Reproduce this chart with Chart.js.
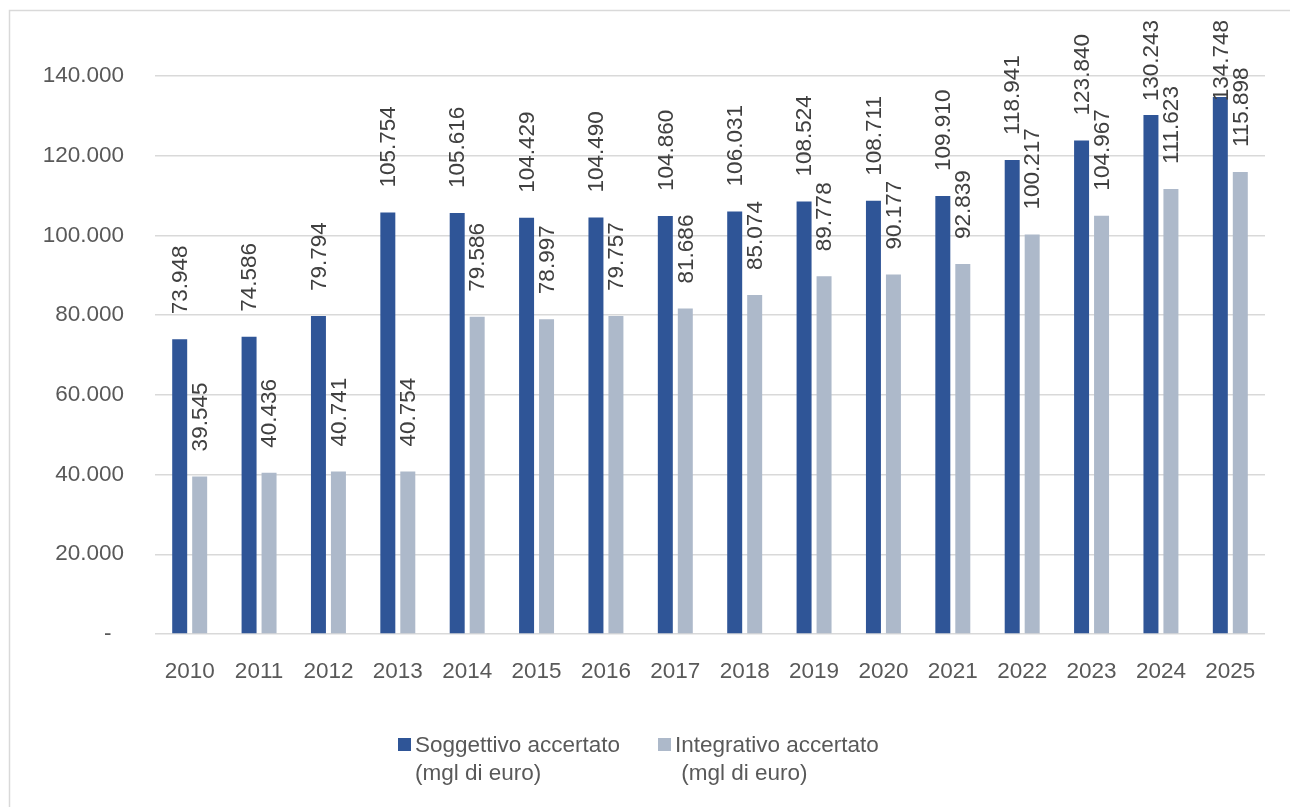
<!DOCTYPE html>
<html>
<head>
<meta charset="utf-8">
<script src="https://cdn.jsdelivr.net/npm/chart.js@4.4.1/dist/chart.umd.min.js"></script>
<style>
  html, body { margin: 0; padding: 0; background: #fff; }
  #wrap { position: relative; width: 1290px; height: 807px; }
</style>
</head>
<body>
<div id="wrap"><canvas id="chart" width="1290" height="807"></canvas></div>
<script>
// data
const years = ['2010', '2011', '2012', '2013', '2014', '2015', '2016', '2017',
               '2018', '2019', '2020', '2021', '2022', '2023', '2024', '2025'];
const soggettivo = [73948, 74586, 79794, 105754, 105616, 104429, 104490, 104860,
                    106031, 108524, 108711, 109910, 118941, 123840, 130243, 134748];
const integrativo = [39545, 40436, 40741, 40754, 79586, 78997, 79757, 81686,
                     85074, 89778, 90177, 92839, 100217, 104967, 111623, 115898];
const seriesNames = [
    ['Soggettivo accertato', '(mgl di euro)'],
    ['Integrativo accertato', ' (mgl di euro)']
];
const yTicks = [0, 20000, 40000, 60000, 80000, 100000, 120000, 140000];

const FONT = '"Liberation Sans", Arial, sans-serif';
const darkBlue = '#2F5597';
const lightBlue = '#ADB9CA';

function fmt(v) {
    return String(v).replace(/\B(?=(\d{3})+(?!\d))/g, '.');
}

// frame around the whole chart
const framePlugin = {
    id: 'frame',
    beforeDraw(chart) {
        const ctx = chart.ctx;
        ctx.save();
        ctx.strokeStyle = '#d9d9d9';
        ctx.lineWidth = 1.5;
        ctx.strokeRect(9.5, 10.5, 1300, 820);
        ctx.restore();
    }
};

// vertical value labels above each bar
const barLabels = {
    id: 'barLabels',
    afterDatasetsDraw(chart) {
        const ctx = chart.ctx;
        ctx.save();
        ctx.font = '22.5px ' + FONT;
        ctx.fillStyle = '#404040';
        ctx.textAlign = 'left';
        ctx.textBaseline = 'middle';
        chart.data.datasets.forEach((ds, di) => {
            const meta = chart.getDatasetMeta(di);
            meta.data.forEach((bar, i) => {
                const txt = fmt(ds.data[i]);
                const w = ctx.measureText(txt).width;
                let start = bar.y - 25;
                if (start - w < 20) start = 20 + w;
                ctx.save();
                ctx.translate(bar.x + 1, start);
                ctx.rotate(-Math.PI / 2);
                ctx.fillText(txt, 0, 0);
                ctx.restore();
            });
        });
        ctx.restore();
    }
};

// two-line legend at the bottom
const legendPlugin = {
    id: 'bottomLegend',
    afterDraw(chart) {
        const ctx = chart.ctx;
        const xs = [398, 658];
        ctx.save();
        ctx.font = '22.5px ' + FONT;
        ctx.textBaseline = 'middle';
        ctx.textAlign = 'left';
        chart.data.datasets.forEach((ds, di) => {
            const x = xs[di];
            ctx.fillStyle = ds.backgroundColor;
            ctx.fillRect(x, 738, 13, 13);
            ctx.fillStyle = '#595959';
            seriesNames[di].forEach((line, li) => {
                ctx.fillText(line, x + 17, 746 + li * 28);
            });
        });
        ctx.restore();
    }
};

new Chart(document.getElementById('chart').getContext('2d'), {
    type: 'bar',
    data: {
        labels: years,
        datasets: [
            { label: seriesNames[0].join(' '), data: soggettivo, backgroundColor: darkBlue,
              categoryPercentage: 0.576, barPercentage: 0.75 },
            { label: seriesNames[1].join(' '), data: integrativo, backgroundColor: lightBlue,
              categoryPercentage: 0.576, barPercentage: 0.75 }
        ]
    },
    options: {
        responsive: false,
        animation: false,
        layout: { padding: { left: 0, right: 25, top: 76, bottom: 113 } },
        plugins: {
            legend: { display: false },
            tooltip: { enabled: false }
        },
        scales: {
            x: {
                grid: { display: false },
                border: { display: false },
                ticks: { color: '#595959', font: { family: FONT, size: 22.5 }, padding: 16, maxRotation: 0 },
                afterFit(scale) { scale.height = 60; }
            },
            y: {
                min: 0,
                max: 140000,
                afterBuildTicks(scale) { scale.ticks = yTicks.map(v => ({ value: v })); },
                grid: { color: '#d9d9d9', lineWidth: 1.5, drawTicks: false },
                border: { display: false },
                ticks: {
                    color: '#595959',
                    font: { family: FONT, size: 22.5 },
                    padding: 31,
                    callback: v => v === 0 ? '-  ' : fmt(v)
                },
                afterFit(scale) { scale.width = 155; }
            }
        }
    },
    plugins: [framePlugin, barLabels, legendPlugin]
});
</script>
</body>
</html>
